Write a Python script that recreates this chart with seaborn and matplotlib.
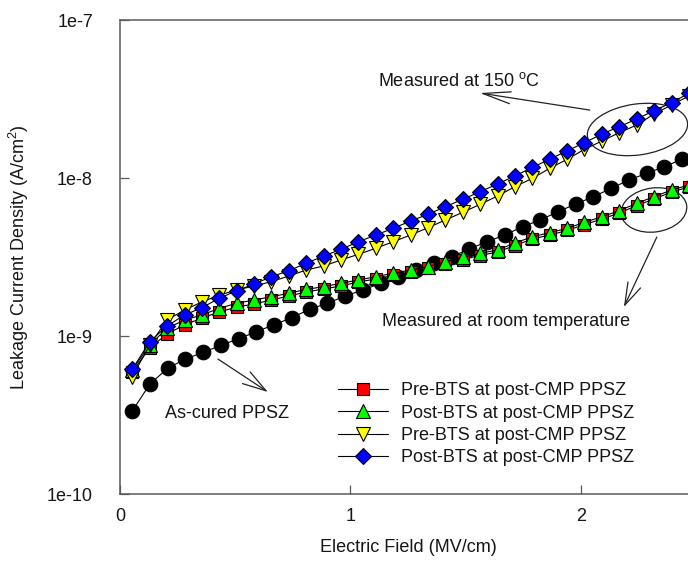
import matplotlib
matplotlib.use("Agg")
import matplotlib.pyplot as plt
import seaborn as sns
from matplotlib.patches import Ellipse
from matplotlib.ticker import NullLocator
from matplotlib.transforms import ScaledTranslation

# Electric field (MV/cm) for the as-cured film and for the post-CMP film
field_ascured = [0.053, 0.130, 0.207, 0.284, 0.361, 0.438, 0.515, 0.592, 0.669, 0.746,
                 0.823, 0.900, 0.977, 1.054, 1.131, 1.208, 1.285, 1.362, 1.439, 1.516,
                 1.593, 1.670, 1.747, 1.824, 1.901, 1.978, 2.055, 2.132, 2.209, 2.286,
                 2.363, 2.440]
field_cmp = [0.053, 0.129, 0.204, 0.280, 0.355, 0.431, 0.506, 0.582, 0.657, 0.733,
             0.808, 0.884, 0.959, 1.035, 1.110, 1.186, 1.261, 1.337, 1.412, 1.488,
             1.563, 1.639, 1.714, 1.790, 1.865, 1.941, 2.016, 2.092, 2.167, 2.243,
             2.318, 2.394, 2.469]

# Leakage current density (A/cm^2)
j_ascured = [3.35e-10, 4.97e-10, 6.25e-10, 7.15e-10, 7.88e-10, 8.73e-10, 9.61e-10, 1.065e-9,
             1.179e-9, 1.306e-9, 1.476e-9, 1.611e-9, 1.791e-9, 1.954e-9, 2.156e-9, 2.363e-9,
             2.617e-9, 2.877e-9, 3.175e-9, 3.553e-9, 3.951e-9, 4.357e-9, 4.918e-9, 5.421e-9,
             6.118e-9, 6.845e-9, 7.615e-9, 8.604e-9, 9.712e-9, 1.071e-8, 1.179e-8, 1.314e-8]
j_pre_rt = [5.92e-10, 8.40e-10, 1.030e-9, 1.174e-9, 1.300e-9, 1.419e-9, 1.526e-9, 1.594e-9,
            1.690e-9, 1.791e-9, 1.899e-9, 1.984e-9, 2.073e-9, 2.197e-9, 2.295e-9, 2.415e-9,
            2.542e-9, 2.675e-9, 2.856e-9, 3.049e-9, 3.232e-9, 3.401e-9, 3.739e-9, 4.111e-9,
            4.357e-9, 4.653e-9, 5.076e-9, 5.500e-9, 6.004e-9, 6.697e-9, 7.365e-9, 8.154e-9,
            8.77e-9]
j_post_rt = [6.09e-10, 8.77e-10, 1.119e-9, 1.262e-9, 1.358e-9, 1.497e-9, 1.611e-9, 1.690e-9,
             1.773e-9, 1.863e-9, 1.974e-9, 2.051e-9, 2.156e-9, 2.262e-9, 2.373e-9, 2.493e-9,
             2.617e-9, 2.746e-9, 2.953e-9, 3.148e-9, 3.337e-9, 3.502e-9, 3.878e-9, 4.251e-9,
             4.506e-9, 4.804e-9, 5.243e-9, 5.689e-9, 6.209e-9, 6.916e-9, 7.615e-9, 8.396e-9,
             9.03e-9]
j_pre_150 = [5.53e-10, 8.77e-10, 1.262e-9, 1.461e-9, 1.641e-9, 1.817e-9, 1.954e-9, 2.073e-9,
             2.207e-9, 2.397e-9, 2.617e-9, 2.773e-9, 3.027e-9, 3.289e-9, 3.590e-9, 3.951e-9,
             4.357e-9, 4.846e-9, 5.421e-9, 6.065e-9, 6.815e-9, 7.694e-9, 8.809e-9, 9.956e-9,
             1.152e-8, 1.314e-8, 1.519e-8, 1.715e-8, 1.935e-8, 2.165e-8, 2.542e-8, 2.897e-8,
             3.304e-8]
j_post_150 = [6.16e-10, 9.20e-10, 1.157e-9, 1.358e-9, 1.510e-9, 1.732e-9, 1.935e-9, 2.134e-9,
              2.373e-9, 2.590e-9, 2.885e-9, 3.208e-9, 3.537e-9, 3.951e-9, 4.357e-9, 4.804e-9,
              5.342e-9, 5.892e-9, 6.582e-9, 7.333e-9, 8.190e-9, 9.163e-9, 1.030e-8, 1.169e-8,
              1.314e-8, 1.488e-8, 1.673e-8, 1.899e-8, 2.113e-8, 2.363e-8, 2.667e-8, 2.997e-8,
              3.437e-8]

legend_labels = ["Pre-BTS at post-CMP PPSZ", "Post-BTS at post-CMP PPSZ",
                 "Pre-BTS at post-CMP PPSZ", "Post-BTS at post-CMP PPSZ"]
y_ticks = [1e-10, 1e-9, 1e-8, 1e-7]
y_tick_labels = ["1e-10", "1e-9", "1e-8", "1e-7"]
x_ticks = [0, 1, 2]
x_tick_labels = ["0", "1", "2"]

sns.set_theme(style="ticks")
plt.rcParams["font.family"] = ["Liberation Sans", "DejaVu Sans"]
plt.rcParams["mathtext.fontset"] = "custom"
plt.rcParams["mathtext.rm"] = "Liberation Sans"
plt.rcParams["mathtext.it"] = "Liberation Sans:italic"
plt.rcParams["mathtext.bf"] = "Liberation Sans:bold"

FS = 13
TXT = "#161616"
AX_COL = "#5a5a5a"

fig = plt.figure(figsize=(6.88, 5.61), dpi=100)
fig.patch.set_facecolor("white")
# axes extend slightly past the right border of the figure
ax = fig.add_axes([120 / 688, 67 / 561, 576 / 688, 474 / 561])
ax.set_yscale("log")

series = [
    (field_ascured, j_ascured, "o", "black", 10.5, None),
    (field_cmp, j_pre_rt, "s", "#ff0000", 8.5, legend_labels[0]),
    (field_cmp, j_post_rt, "^", "#00ff00", 10.5, legend_labels[1]),
    (field_cmp, j_pre_150, "v", "#ffff00", 10.5, legend_labels[2]),
    (field_cmp, j_post_150, "D", "#0000ff", 8.4, legend_labels[3]),
]
for xs, ys, mk, fc, ms, lab in series:
    sns.lineplot(x=xs, y=ys, ax=ax, sort=False, errorbar=None,
                 color="black", linewidth=0.8, marker=mk, markersize=ms,
                 markerfacecolor=fc, markeredgecolor="black", markeredgewidth=0.8,
                 label=lab)

ax.set_xlim(0, 2.5)
ax.set_ylim(1e-10, 1e-7)
ax.set_xticks(x_ticks)
ax.set_xticklabels(x_tick_labels)
ax.set_yticks(y_ticks)
ax.set_yticklabels(y_tick_labels)
ax.yaxis.set_minor_locator(NullLocator())
ax.xaxis.set_minor_locator(NullLocator())
ax.tick_params(axis="both", direction="in", length=6.5, width=0.9, color=AX_COL,
               labelsize=FS, labelcolor=TXT, left=True, bottom=True, top=False, right=False)
ax.tick_params(axis="y", pad=19.5)
ax.tick_params(axis="x", pad=10)
for sp in ax.spines.values():
    sp.set_color(AX_COL)
    sp.set_linewidth(1.1)

ax.set_xlabel("Electric Field (MV/cm)", fontsize=FS, color=TXT)
ax.set_ylabel(r"Leakage Current Density (A/cm$^2$)", fontsize=FS, color=TXT)
ax.xaxis.set_label_coords(0.5, -0.095)
ax.yaxis.set_label_coords(-0.155, 0.5)

handles = ax.get_lines()[1:5]
ax.legend(handles, legend_labels, loc="upper left", bbox_to_anchor=(0.378, 0.236),
          frameon=False, borderpad=0, borderaxespad=0, handlelength=2.8,
          handletextpad=0.7, labelspacing=0.3, fontsize=FS, labelcolor=TXT)

# annotations: text labels, grouping ellipses and pointer arrows
ax.text(1.119, 4.11e-8, r"Measured at 150 $^{\mathrm{o}}$C", fontsize=FS, color=TXT,
        ha="left", va="center")
ax.text(1.137, 1.227e-9, "Measured at room temperature", fontsize=FS, color=TXT,
        ha="left", va="center")
ax.text(0.195, 3.21e-10, "As-cured PPSZ", fontsize=FS, color=TXT, ha="left", va="center")

for (cx, cy), w, h, ang in [((0.8984, 0.7690), 1.01, 0.51, 8),
                            ((0.927, 0.5992), 0.66, 0.44, 8)]:
    tr = fig.dpi_scale_trans + ScaledTranslation(cx, cy, ax.transAxes)
    ax.add_patch(Ellipse((0, 0), w, h, angle=ang, transform=tr, fill=False,
                         edgecolor="#222222", linewidth=0.9))

arrows = [
    ((1.562, 3.45e-8), (2.039, 2.69e-8), 2.0, 0.43),
    ((2.187, 1.526e-9), (2.330, 4.23e-9), 1.6, 0.5),
    ((0.642, 4.42e-10), (0.425, 7.15e-10), 1.7, 0.5),
]
for tip, tail, hl, hw in arrows:
    ax.annotate("", xy=tip, xytext=tail,
                arrowprops=dict(arrowstyle=f"->,head_length={hl},head_width={hw}",
                                color="#222222", lw=0.9, shrinkA=0, shrinkB=0,
                                mutation_scale=10))

fig.savefig("out.png", dpi=100)
